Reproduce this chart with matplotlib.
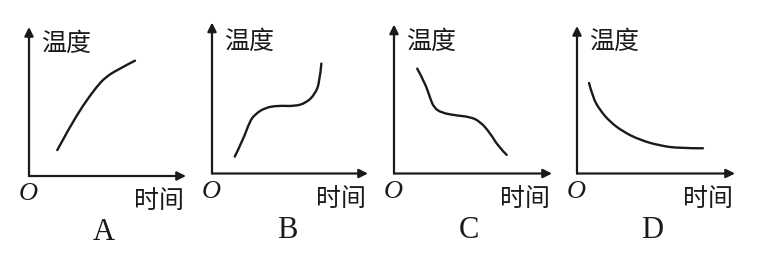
import matplotlib
matplotlib.use('Agg')
import matplotlib.pyplot as plt
from matplotlib.path import Path
from matplotlib.patches import PathPatch

plt.rcParams['font.family'] = ['Noto Sans CJK SC', 'DejaVu Sans']

# panel letters and axis labels
panels = ['A', 'B', 'C', 'D']
y_label = '温度'
x_label = '时间'
origin_label = 'O'

# curves (time, temperature) on a 0..10 scale
time_a = [1.80, 2.61, 3.46, 4.31, 4.84, 5.59, 6.75]
temp_a = [1.74, 3.31, 4.77, 5.99, 6.60, 7.11, 7.74]

time_b = [1.46, 1.99, 2.42, 2.74, 3.38, 4.23, 5.30, 6.04, 6.58, 6.90, 7.01]
temp_b = [1.12, 2.23, 3.45, 3.90, 4.35, 4.50, 4.45, 4.68, 5.23, 6.01, 7.28]

time_c = [1.47, 1.96, 2.28, 2.53, 3.02, 3.97, 4.81, 5.44, 6.08, 6.60, 7.13]
temp_c = [7.04, 6.09, 5.08, 4.41, 4.07, 3.89, 3.80, 3.50, 2.72, 1.81, 1.25]

time_d = [0.76, 1.01, 1.44, 2.07, 2.91, 3.97, 5.23, 6.50, 7.97]
temp_d = [6.14, 5.12, 4.32, 3.52, 2.84, 2.28, 1.89, 1.71, 1.71]

curves = [(time_a, temp_a), (time_b, temp_b), (time_c, temp_c), (time_d, temp_d)]

# axes origin and arrow lengths in pixels
W, H = 778, 261
boxes = [(29, 176, 157, 149), (212, 173.5, 156, 151),
         (394, 173.5, 158, 149), (577, 173.5, 158, 147.5)]

ink = '#1a1a1a'


def smooth_path(xs, ys):
    # quadratic beziers through the midpoints, read points as control points
    pts = list(zip(xs, ys))
    verts = [pts[0]]
    codes = [Path.MOVETO]
    for i in range(1, len(pts) - 1):
        mid = ((pts[i][0] + pts[i + 1][0]) / 2, (pts[i][1] + pts[i + 1][1]) / 2)
        if i == len(pts) - 2:
            mid = pts[-1]
        verts += [pts[i], mid]
        codes += [Path.CURVE3, Path.CURVE3]
    return Path(verts, codes)


fig = plt.figure(figsize=(W / 100, H / 100), dpi=100)

for name, (t, temp), (ox, oy, bw, bh) in zip(panels, curves, boxes):
    ax = fig.add_axes([ox / W, (H - oy) / H, bw / W, bh / H])
    ax.set_xlim(0, 10)
    ax.set_ylim(0, 10)
    ax.axis('off')

    arrow = dict(arrowstyle='-|>', lw=1.6, color=ink, mutation_scale=13,
                 shrinkA=0, shrinkB=0)
    ax.annotate('', xy=(1, 0), xytext=(0, 0), xycoords='axes fraction',
                arrowprops=arrow, annotation_clip=False)
    ax.annotate('', xy=(0, 1), xytext=(0, 0), xycoords='axes fraction',
                arrowprops=arrow, annotation_clip=False)

    ax.add_patch(PathPatch(smooth_path(t, temp), facecolor='none',
                           edgecolor=ink, lw=1.7, capstyle='round',
                           clip_on=False))

    ax.annotate(y_label, xy=(0, 0), xycoords='axes fraction',
                xytext=(12, 132), textcoords='offset pixels',
                ha='left', va='center', fontsize=18, color=ink)
    ax.annotate(x_label, xy=(1, 0), xycoords='axes fraction',
                xytext=(-27, -25), textcoords='offset pixels',
                ha='center', va='center', fontsize=18, color=ink)
    ax.annotate(origin_label, xy=(0, 0), xycoords='axes fraction',
                xytext=(-1, -18), textcoords='offset pixels',
                ha='center', va='center', fontsize=19, color=ink,
                family='Liberation Serif', style='italic')
    ax.annotate(name, xy=(0, 0), xycoords='axes fraction',
                xytext=(75, -57), textcoords='offset pixels',
                ha='center', va='center', fontsize=22, color=ink,
                family='Liberation Serif')

fig.savefig('out.png', dpi=100, facecolor='white')
